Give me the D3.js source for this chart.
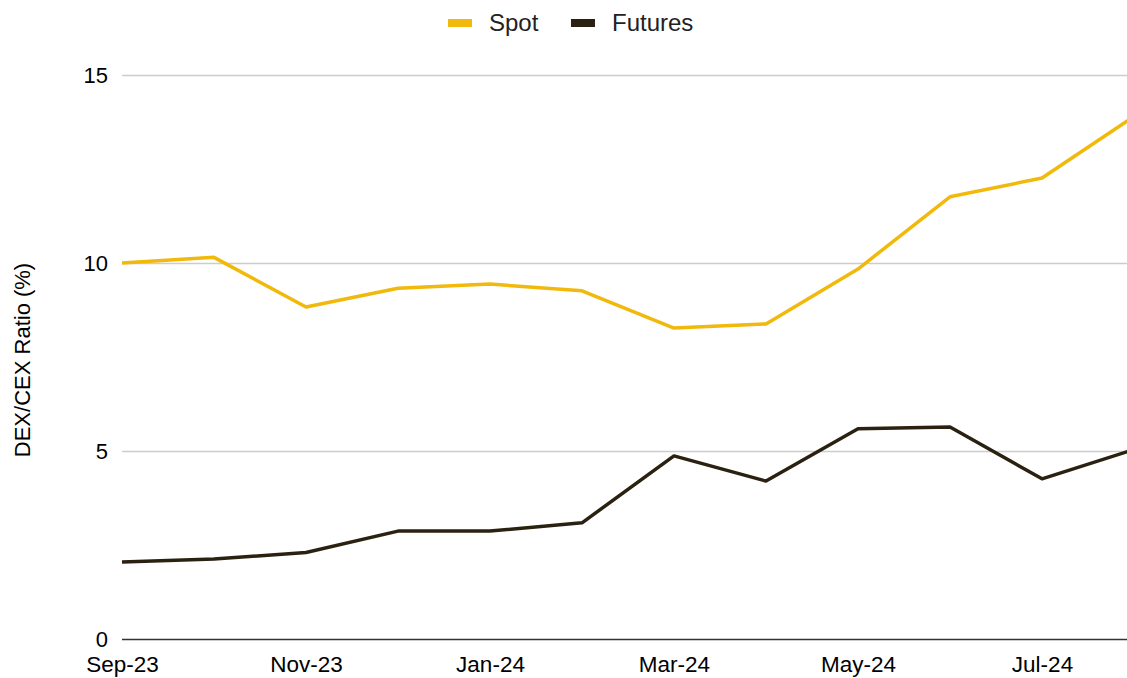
<!DOCTYPE html>
<html>
<head>
<meta charset="utf-8">
<script src="https://cdn.jsdelivr.net/npm/d3@7"></script>
<style>
  html, body { margin: 0; padding: 0; background: #fff; }
  svg { display: block; font-family: "Liberation Sans", Arial, sans-serif; }
</style>
</head>
<body>
<div id="chart"></div>
<script>
const months = ['Sep-23', 'Oct-23', 'Nov-23', 'Dec-23', 'Jan-24', 'Feb-24',
  'Mar-24', 'Apr-24', 'May-24', 'Jun-24', 'Jul-24', 'Aug-24']
const spot = [10.0, 10.15, 8.83, 9.33, 9.44, 9.26, 8.27, 8.38, 9.84, 11.76, 12.26, 13.9]
const futures = [2.05, 2.13, 2.3, 2.87, 2.87, 3.09, 4.87, 4.2, 5.59, 5.64, 4.26, 5.04]
const yTicks = [0, 5, 10, 15]
const xTickLabels = ['Sep-23', 'Nov-23', 'Jan-24', 'Mar-24', 'May-24', 'Jul-24']

const W = 1127, H = 678
const MARGIN = { top: 75, left: 122, bottom: 39 }
const SPOT = '#f0b90b'
const FUT = '#2b2111'
const FONT = '"Liberation Sans", Arial, sans-serif'

const svg = d3.select('#chart').append('svg')
  .attr('width', W).attr('height', H)

const innerH = H - MARGIN.top - MARGIN.bottom
const x = d3.scalePoint().domain(months).range([0, 92 * (months.length - 1)])
const y = d3.scaleLinear().domain([0, 15]).range([innerH, 0])

const g = svg.append('g').attr('transform', `translate(${MARGIN.left},${MARGIN.top})`)

// gridlines + y labels
g.append('g')
  .call(d3.axisLeft(y).tickValues(yTicks).tickSize(-(W - MARGIN.left)).tickPadding(14).tickFormat(d3.format('d')))
  .call(sel => sel.select('.domain').remove())
  .call(sel => sel.selectAll('line').attr('stroke', '#cccccc').attr('stroke-width', 1.5))
  .call(sel => sel.selectAll('.tick').filter(d => d === 0).select('line').attr('stroke', '#333').attr('stroke-width', 1.5))
  .call(sel => sel.selectAll('text').attr('fill', '#000').attr('font-size', 22).attr('font-family', FONT))

g.append('g')
  .attr('transform', `translate(0,${innerH})`)
  .call(d3.axisBottom(x).tickValues(xTickLabels).tickSize(0).tickPadding(17))
  .call(sel => sel.select('.domain').remove())
  .call(sel => sel.selectAll('text').attr('fill', '#000').attr('font-size', 22.5).attr('font-family', FONT))

const line = d3.line().x((_, i) => x(months[i])).y(v => y(v))

g.append('path').attr('d', line(futures))
  .attr('fill', 'none').attr('stroke', FUT).attr('stroke-width', 3.5).attr('stroke-linejoin', 'round')
g.append('path').attr('d', line(spot))
  .attr('fill', 'none').attr('stroke', SPOT).attr('stroke-width', 3.5).attr('stroke-linejoin', 'round')

// y title
svg.append('text')
  .attr('transform', `translate(30,${MARGIN.top + innerH / 2 + 3}) rotate(-90)`)
  .attr('text-anchor', 'middle')
  .attr('font-size', 22).attr('fill', '#000')
  .text('DEX/CEX Ratio (%)')

// legend
const legend = [{ name: 'Spot', color: SPOT, x: 448 }, { name: 'Futures', color: FUT, x: 571 }]
const lg = svg.append('g')
legend.forEach(d => {
  lg.append('rect').attr('x', d.x).attr('y', 19).attr('width', 24).attr('height', 8).attr('fill', d.color)
  lg.append('text').attr('x', d.x + 41).attr('y', 31)
    .attr('font-size', 24).attr('fill', '#222').text(d.name)
})
</script>
</body>
</html>
